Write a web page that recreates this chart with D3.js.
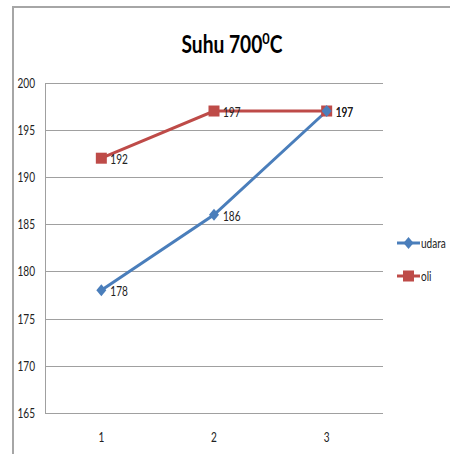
<!DOCTYPE html>
<html><head><meta charset="utf-8">
<script src="https://cdn.jsdelivr.net/npm/d3@7"></script>
<style>body{margin:0;background:#fff}svg{display:block}</style>
</head><body>
<script>
const categories = ["1","2","3"];
const udara = [178,186,197];
const oli = [192,197,197];
const yTicks = [165,170,175,180,185,190,195,200];
const seriesNames = ["udara","oli"];

const W=450,H=454;
const svg=d3.select("body").append("svg").attr("width",W).attr("height",H);
const font="Lato,'Liberation Sans',sans-serif";
function txt(sel,px,py,str,opts={}){
  const sx=opts.sx||0.72;
  return sel.append("text")
    .attr("transform",`translate(${px},${py}) scale(${sx},1)`)
    .attr("text-anchor",opts.anchor||"start")
    .attr("font-family",font).attr("font-size",opts.size||14)
    .attr("font-weight",opts.weight||"normal")
    .attr("fill",opts.fill||"#222").text(str);
}
// outer border
svg.append("path").attr("d","M13,454V7H450").attr("fill","none").attr("stroke","#a6a6a6").attr("stroke-width",2);

const x=d3.scaleBand().domain(categories).range([45,383]);
const y=d3.scaleLinear().domain([165,200]).range([413,82.7]);

const g=svg.append("g");
g.selectAll("line.grid").data(yTicks).enter().append("line")
 .attr("x1",45).attr("x2",383).attr("y1",d=>Math.round(y(d))+0.5).attr("y2",d=>Math.round(y(d))+0.5)
 .attr("stroke","#a0a0a0").attr("stroke-width",1);
g.append("line").attr("x1",45.5).attr("x2",45.5).attr("y1",Math.round(y(200))).attr("y2",Math.round(y(165))+1).attr("stroke","#a0a0a0");
yTicks.forEach(d=>txt(g,35,y(d)+5,d,{anchor:"end"}));
categories.forEach(d=>txt(g,x(d)+x.bandwidth()/2,442,d,{anchor:"middle"}));

const title=svg.append("text").attr("transform","translate(232,53) scale(0.8,1)").attr("text-anchor","middle")
 .attr("font-family",font).attr("font-weight","bold").attr("font-size",24).attr("fill","#000");
title.append("tspan").text("Suhu 700");
title.append("tspan").attr("dy",-9).attr("font-size",16).text("0");
title.append("tspan").attr("dy",9).text("C");

const cx=d=>x(d)+x.bandwidth()/2;
const line=d3.line().x((d,i)=>cx(categories[i])).y(d=>y(d));
const colors={udara:"#4a7ebb",oli:"#be4b48"};
const data={udara,oli};

function marker(sel,name,px,py){
  if(name==="oli") sel.append("rect").attr("x",px-5.5).attr("y",py-5.5).attr("width",11).attr("height",11).attr("fill",colors.oli);
  else sel.append("path").attr("d",`M${px},${py-6}L${px+5},${py}L${px},${py+6}L${px-5},${py}Z`).attr("fill",colors.udara);
}
["oli","udara"].forEach(name=>{
  svg.append("path").attr("d",line(data[name])).attr("fill","none").attr("stroke",colors[name]).attr("stroke-width",3);
});
["oli","udara"].forEach(name=>{
  data[name].forEach((v,i)=>marker(svg,name,cx(categories[i]),y(v)));
});
["oli","udara"].forEach(name=>{
  data[name].forEach((v,i)=>txt(svg,cx(categories[i])+9,y(v)+6,v));
});
// legend
const leg=[{n:"udara",y:243},{n:"oli",y:276}];
leg.forEach(l=>{
  svg.append("line").attr("x1",397).attr("x2",420).attr("y1",l.y).attr("y2",l.y).attr("stroke",colors[l.n]).attr("stroke-width",3);
  marker(svg,l.n,408.5,l.y);
  txt(svg,421,l.y+5,l.n);
});
</script>
</body></html>
